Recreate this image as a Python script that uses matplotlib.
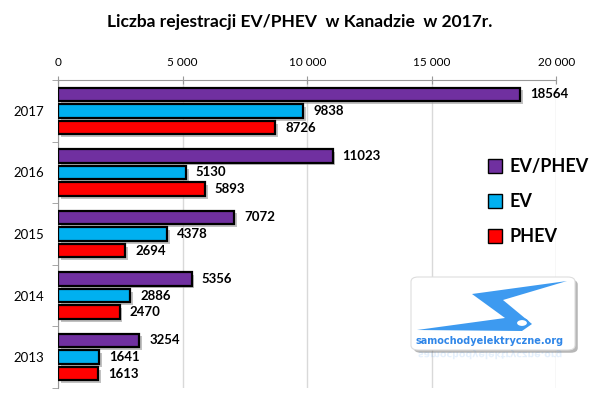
import numpy as np
import matplotlib.pyplot as plt
import matplotlib.patheffects as pe
from matplotlib.patches import FancyBboxPatch, Polygon, Patch, PathPatch
from matplotlib.textpath import TextPath
from matplotlib.font_manager import FontProperties
from matplotlib.transforms import Affine2D

plt.rcParams['font.family'] = ['Lato', 'DejaVu Sans']

years = ['2017', '2016', '2015', '2014', '2013']
evphev = [18564, 11023, 7072, 5356, 3254]
ev = [9838, 5130, 4378, 2886, 1641]
phev = [8726, 5893, 2694, 2470, 1613]
series_names = ['EV/PHEV', 'EV', 'PHEV']
colors = ['#7030a0', '#00b0f0', '#ff0000']

W, H = 600, 397
fig = plt.figure(figsize=(6, 3.97), dpi=100)
ax = fig.add_axes([0.097, 0.023, 0.83, 0.775])

y = np.arange(len(years))
step = 0.27
h = 0.22
shadow = [pe.SimplePatchShadow(offset=(2, -2), shadow_rgbFace='#999999', alpha=0.6), pe.Normal()]
for k, (vals, c) in enumerate(zip([evphev, ev, phev], colors)):
    pos = y + (k - 1) * step
    bars = ax.barh(pos, vals, height=h, color=c, edgecolor='black', linewidth=1.6, zorder=3)
    for b in bars:
        b.set_path_effects(shadow)
    for p, v in zip(pos, vals):
        ax.text(v + 400, p, str(v), va='center', ha='left', fontsize=9.5,
                fontweight='bold', zorder=4)

ax.set_ylim(len(years) - 0.5, -0.5)
ax.set_xlim(0, 20000)
ax.set_xticks([0, 5000, 10000, 15000, 20000])
ax.set_xticklabels(['0', '5 000', '10 000', '15 000', '20 000'], fontsize=8.5)
ax.xaxis.tick_top()
ax.tick_params(axis='x', direction='inout', length=6, color='#999999', pad=6)
ax.set_yticks(y)
ax.set_yticklabels(years, fontsize=9.5)
ax.tick_params(axis='y', length=0, pad=10)
ax.set_yticks(np.arange(len(years) + 1) - 0.5, minor=True)
ax.tick_params(axis='y', which='minor', length=4, color='#999999', direction='out')
ax.grid(axis='x', color='#d9d9d9', linewidth=1, zorder=0)
for s in ['right', 'bottom']:
    ax.spines[s].set_visible(False)
ax.spines['top'].set_color('#999999')
ax.spines['left'].set_color('#999999')

handles = [Patch(facecolor=c, edgecolor='black', label=n) for c, n in zip(colors, series_names)]
leg = ax.legend(handles=handles, loc='upper left', bbox_to_anchor=(0.83, 0.80), frameon=False,
                prop={'weight': 'bold', 'size': 13}, handlelength=0.8, handleheight=0.8,
                handletextpad=0.4, labelspacing=1.0)
leg.set_zorder(8)

fig.text(0.5, 0.945, 'Liczba rejestracji EV/PHEV  w Kanadzie  w 2017r.', ha='center', va='center',
         fontsize=12.5, fontweight='bold')

# logo (pixel coords converted to figure fraction)
def px(x, yy):
    return (x / W, 1 - yy / H)

box = FancyBboxPatch(px(411, 350), 164 / W, 73 / H, boxstyle='round,pad=0,rounding_size=0.012',
                     transform=fig.transFigure, facecolor='white', edgecolor='#dddddd',
                     linewidth=0.8, zorder=5,
                     path_effects=[pe.SimplePatchShadow(offset=(2, -2), alpha=0.4), pe.Normal()])
fig.patches.append(box)
bolt_pts = [(417, 330), (505, 318), (472, 294), (567, 281), (503, 300), (532, 324), (522, 331)]
bolt = Polygon([px(a, b) for a, b in bolt_pts], closed=True, transform=fig.transFigure,
               facecolor='#3d9af0', edgecolor='none', zorder=6)
fig.patches.append(bolt)
wheel = plt.Circle(px(522, 323), 6 / W, transform=fig.transFigure, facecolor='white',
                   edgecolor='#3d9af0', linewidth=1.5, zorder=7)
fig.patches.append(wheel)
logo_txt = 'samochodyelektryczne.org'
fig.text(490 / W, 1 - 341 / H, logo_txt, ha='center', va='center', family='DejaVu Sans',
         fontsize=7, fontweight='bold', color='#2f86e8', zorder=7)
# mirrored reflection
tp = TextPath((0, 0), logo_txt, size=9.5, prop=FontProperties(family='DejaVu Sans', weight='bold'))
ext = tp.get_extents()
tr = Affine2D().translate(-ext.x0 - ext.width / 2, 0).scale(1, -1).translate(490, H - 352)
refl = PathPatch(tr.transform_path(tp), facecolor='#2f86e8', edgecolor='none', alpha=0.12,
                 transform=fig.dpi_scale_trans.frozen() if False else None, zorder=7)
refl.set_transform(Affine2D().scale(1 / W, 1 / H) + fig.transFigure)
fig.patches.append(refl)

fig.savefig('out.png', dpi=100)
